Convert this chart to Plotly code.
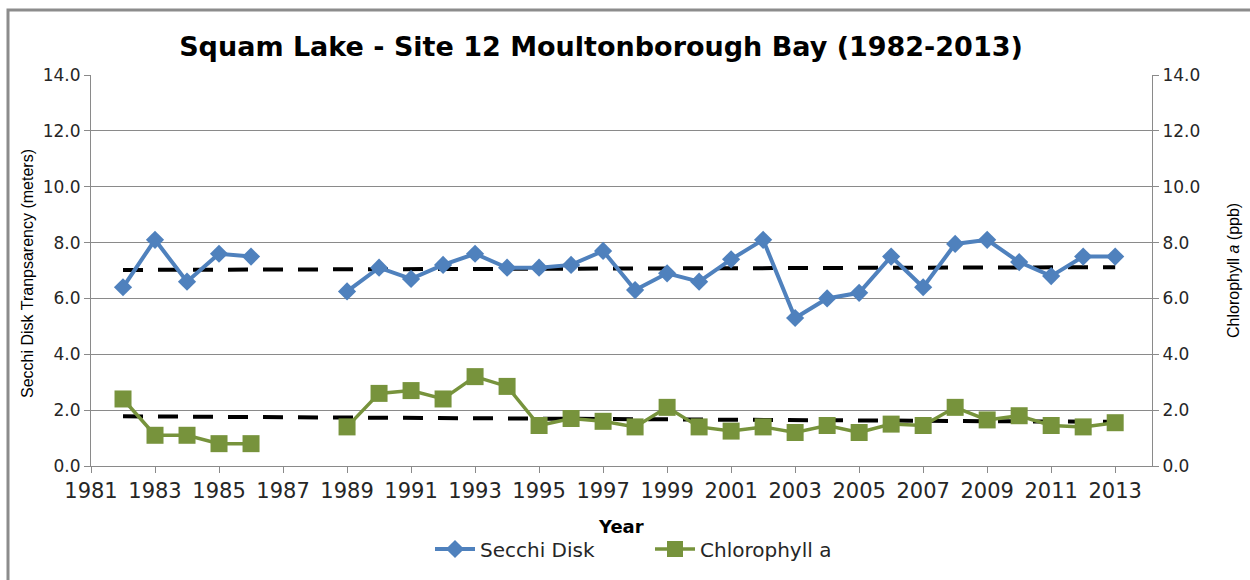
import plotly.graph_objects as go

years = list(range(1982, 2014))
secchi = [6.4, 8.1, 6.6, 7.6, 7.5, None, None, 6.25, 7.1, 6.7, 7.2, 7.6, 7.1, 7.1, 7.2, 7.7,
          6.3, 6.9, 6.6, 7.4, 8.1, 5.3, 6.0, 6.2, 7.5, 6.4, 7.95, 8.1, 7.3, 6.8, 7.5, 7.5]
chlorophyll = [2.4, 1.1, 1.1, 0.8, 0.8, None, None, 1.4, 2.6, 2.7, 2.4, 3.2, 2.85, 1.45, 1.7, 1.6,
               1.4, 2.1, 1.4, 1.25, 1.4, 1.2, 1.45, 1.2, 1.5, 1.45, 2.1, 1.65, 1.8, 1.45, 1.4, 1.55]
trend_years = [1982, 2013]
secchi_trend = [7.02, 7.12]
chl_trend = [1.78, 1.58]
y_ticks = [0, 2, 4, 6, 8, 10, 12, 14]
y_ticklabels = ["0.0", "2.0", "4.0", "6.0", "8.0", "10.0", "12.0", "14.0"]

BLUE = "#4F81BD"
GREEN = "#77933C"
GRID = "#8a8a8a"
FONT = "DejaVu Sans"

fig = go.Figure()
fig.add_trace(go.Scatter(x=trend_years, y=secchi_trend, mode="lines",
                         line=dict(color="black", width=4, dash="20px,15px"),
                         showlegend=False, hoverinfo="skip"))
fig.add_trace(go.Scatter(x=trend_years, y=chl_trend, mode="lines", yaxis="y2",
                         line=dict(color="black", width=4, dash="20px,15px"),
                         showlegend=False, hoverinfo="skip"))
fig.add_trace(go.Scatter(x=years, y=secchi, mode="lines+markers", name="Secchi Disk",
                         line=dict(color=BLUE, width=4), connectgaps=False,
                         marker=dict(symbol="diamond", size=14, color=BLUE)))
fig.add_trace(go.Scatter(x=years, y=chlorophyll, mode="lines+markers", name="Chlorophyll a",
                         yaxis="y2", line=dict(color=GREEN, width=3.5), connectgaps=False,
                         marker=dict(symbol="square", size=17, color=GREEN)))

L, R, T, B = 91, 1152, 75, 466
W, H = 1250, 580
pw, ph = R - L, B - T

def px(x):
    return (x - L) / pw

def py(y):
    return (B - y) / ph

fig.update_layout(
    width=W, height=H,
    margin=dict(l=L, r=W - R, t=T, b=H - B),
    paper_bgcolor="white", plot_bgcolor="white",
    font=dict(family=FONT, color="#262626"),
    title=dict(text="<b>Squam Lake - Site 12 Moultonborough Bay (1982-2013)</b>",
               font=dict(family=FONT, size=27, color="black"),
               x=601 / W, xanchor="center", y=1 - 47 / H, yanchor="middle",
               xref="container", yref="container"),
    xaxis=dict(range=[1981, 2014.15], tickmode="linear", tick0=1981, dtick=2,
               showgrid=False, zeroline=False, showline=True, linecolor=GRID, linewidth=1,
               ticks="outside", ticklen=6, tickcolor=GRID,
               tickfont=dict(family=FONT, size=21, color="#262626")),
    yaxis=dict(range=[0, 14], tickvals=y_ticks, ticktext=y_ticklabels,
               showgrid=True, gridcolor=GRID, gridwidth=1, zeroline=False,
               showline=True, linecolor=GRID, linewidth=1,
               ticks="outside", ticklen=6, tickcolor=GRID,
               tickfont=dict(family=FONT, size=17, color="#262626")),
    yaxis2=dict(range=[0, 14], tickvals=y_ticks, ticktext=y_ticklabels,
                overlaying="y", side="right", showgrid=False, zeroline=False,
                showline=True, linecolor=GRID, linewidth=1,
                ticks="outside", ticklen=6, tickcolor=GRID,
                tickfont=dict(family=FONT, size=17, color="#262626")),
    legend=dict(orientation="h", x=px(430), xanchor="left", y=py(549), yanchor="middle",
                font=dict(family=FONT, size=20, color="#262626"), bgcolor="rgba(0,0,0,0)",
                itemwidth=40, entrywidth=165, entrywidthmode="pixels"),
    showlegend=True,
)

fig.add_annotation(text="<b>Year</b>", x=px(621), y=py(526), xref="paper", yref="paper",
                   showarrow=False, font=dict(family=FONT, size=18, color="black"),
                   xanchor="center", yanchor="middle")
fig.add_annotation(text="Secchi Disk Tranpsarency (meters)", x=px(27), y=py(274),
                   xref="paper", yref="paper", showarrow=False, textangle=-90,
                   font=dict(family="Liberation Sans", size=16, color="black"),
                   xanchor="center", yanchor="middle")
fig.add_annotation(text="Chlorophyll <i>a</i> (ppb)", x=px(1233), y=py(271),
                   xref="paper", yref="paper", showarrow=False, textangle=-90,
                   font=dict(family="Liberation Sans", size=16, color="black"),
                   xanchor="center", yanchor="middle")

fig.add_shape(type="rect", xref="paper", yref="paper",
              x0=px(8), x1=px(1270), y0=py(600), y1=py(10),
              line=dict(color="#8c8c8c", width=3), fillcolor="rgba(0,0,0,0)", layer="below")

fig.write_html("out.html", config={"displayModeBar": False},
               post_script="document.body.style.margin='0';document.body.style.overflow='hidden';")
